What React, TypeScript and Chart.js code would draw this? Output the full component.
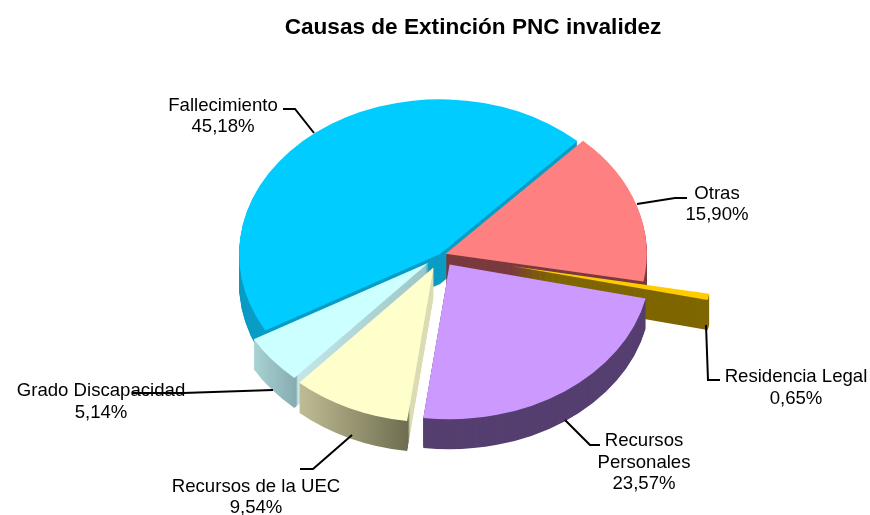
import React, { useEffect, useRef } from "react";
import { Chart, registerables } from "chart.js";

Chart.register(...registerables);

const titleText = "Causas de Extinción PNC invalidez";
const categories = ["Fallecimiento", "Otras", "Residencia Legal", "Recursos Personales", "Recursos de la UEC", "Grado Discapacidad"];
const shares = [45.18, 15.9, 0.65, 23.57, 9.54, 5.14];
const topColors = ["#00CCFF", "#FF8080", "#FFCC00", "#CC99FF", "#FFFFCC", "#CCFFFF"];
const explode = [1.5, 5, 72, 15, 18, 16];

const FONT = '"Liberation Sans", Arial, sans-serif';
const CX = 441;
const CY = 255;
const RADIUS = 201;
const TILT = 0.77;
const DEPTH = 30;
const drawOrder = [0, 1, 2, 5, 4, 3];

// wall colours: flat, or [screen x, colour] gradient stops
const wallStyles: (string | [number, string][])[] = [
  "#0A9CC4",
  "#7A3A3E",
  "#7F6600",
  "#553F70",
  [[302, "#BDBB92"], [350, "#9A9874"], [408, "#6E6D50"], [410, "#DCDCB4"], [436, "#DCDCB4"]],
  [[254, "#A9D2D4"], [296, "#86ACB0"], [298, "#C4E6E8"], [432, "#9CC4C6"]],
];

const labelLayout = [
  { x: 223, ys: [105.5, 126.5], lines: ["Fallecimiento"] },
  { x: 717, ys: [193.5, 214.5], lines: ["Otras"] },
  { x: 796, ys: [376.5, 398.5], lines: ["Residencia Legal"] },
  { x: 644, ys: [440.5, 462.5, 483.5], lines: ["Recursos", "Personales"] },
  { x: 256, ys: [486.5, 508], lines: ["Recursos de la UEC"] },
  { x: 101, ys: [390.5, 412.5], lines: ["Grado Discapacidad"] },
];

const leaders = [
  [[283, 109], [295, 109], [314, 133]],
  [[687, 198], [675, 198], [637, 204]],
  [[706, 325], [708, 380], [720, 380]],
  [[565, 420], [590, 445], [600, 445]],
  [[352, 435], [313, 469], [300, 469]],
  [[273, 390], [183, 393], [132, 393]],
];

const pct = (v: number) => v.toFixed(2).replace(".", ",") + "%";

const pie3d = {
  id: "pie3d",
  beforeDatasetsDraw(chart: any) {
    const ctx = chart.ctx;
    const arcs = chart.getDatasetMeta(0).data;
    arcs.forEach((arc: any, i: number) => {
      const mid = (arc.endAngle + arc.startAngle) / 2;
      arc.x = CX + Math.cos(mid) * explode[i];
      arc.y = CY + Math.sin(mid) * explode[i];
      arc.outerRadius = RADIUS;
      arc.innerRadius = 0;
    });
    const place = (shift: number) => {
      ctx.translate(CX, CY + shift);
      ctx.scale(1, TILT);
      ctx.translate(-CX, -CY);
    };
    for (const i of drawOrder) {
      const arc = arcs[i];
      const base = arc.options;
      const style = wallStyles[i];
      let fill: any = style;
      if (Array.isArray(style)) {
        const x0 = style[0][0];
        const x1 = style[style.length - 1][0];
        const g = ctx.createLinearGradient(x0, 0, x1, 0);
        style.forEach(([x, col]) => g.addColorStop((x - x0) / (x1 - x0), col));
        fill = g;
      }
      arc.options = { ...base, backgroundColor: fill, borderWidth: 0 };
      for (let s = DEPTH; s >= 1; s--) {
        ctx.save();
        place(s);
        arc.draw(ctx);
        ctx.restore();
      }
      arc.options = base;
      ctx.save();
      place(0);
      arc.draw(ctx);
      ctx.restore();
    }
    return false;
  },
  afterDraw(chart: any) {
    const ctx = chart.ctx;
    ctx.save();
    ctx.fillStyle = "#000";
    ctx.font = `18.6px ${FONT}`;
    ctx.textAlign = "center";
    ctx.textBaseline = "middle";
    labelLayout.forEach((l, i) => {
      [...l.lines, pct(shares[i])].forEach((t, j) => ctx.fillText(t, l.x, l.ys[j]));
    });
    ctx.strokeStyle = "#000";
    ctx.lineWidth = 2;
    leaders.forEach((pts) => {
      ctx.beginPath();
      pts.forEach(([x, y], j) => (j ? ctx.lineTo(x, y) : ctx.moveTo(x, y)));
      ctx.stroke();
    });
    ctx.restore();
  },
};

export default function App() {
  const ref = useRef<HTMLCanvasElement>(null);
  useEffect(() => {
    document.body.style.margin = "0";
    const chart = new Chart(ref.current!, {
      type: "pie",
      data: {
        labels: categories,
        datasets: [{ data: shares, backgroundColor: topColors, borderWidth: 0 }],
      },
      options: {
        responsive: false,
        animation: false,
        rotation: -119.6,
        radius: RADIUS,
        layout: { padding: { left: 76 } },
        plugins: {
          legend: { display: false },
          tooltip: { enabled: false },
          title: {
            display: true,
            text: titleText,
            color: "#000",
            font: { family: FONT, size: 22.6, weight: "bold" },
            padding: { top: 14, bottom: 10 },
          },
        },
      },
      plugins: [pie3d],
    } as any);
    return () => chart.destroy();
  }, []);
  return <canvas ref={ref} width={870} height={515} style={{ display: "block" }} />;
}
